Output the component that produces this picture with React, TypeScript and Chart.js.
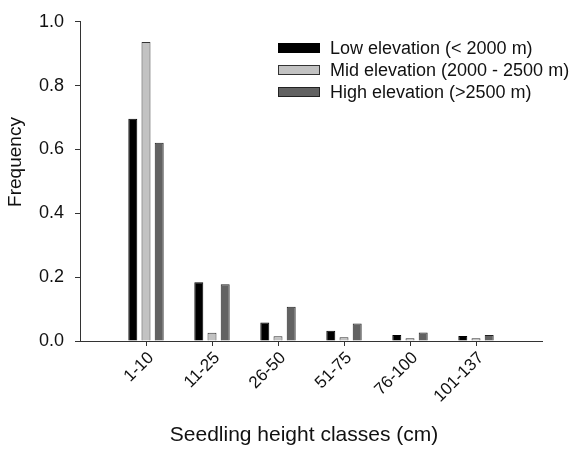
import React, { useEffect, useRef } from "react";
import { Chart, registerables } from "chart.js";

Chart.register(...registerables);

const categories = ["1-10", "11-25", "26-50", "51-75", "76-100", "101-137"];
const lowElevation = [0.696, 0.184, 0.058, 0.032, 0.019, 0.016];
const midElevation = [0.937, 0.026, 0.015, 0.012, 0.009, 0.009];
const highElevation = [0.621, 0.178, 0.107, 0.055, 0.027, 0.019];
const seriesLabels = [
  "Low elevation (< 2000 m)",
  "Mid elevation (2000 - 2500 m)",
  "High elevation (>2500 m)",
];
const yTicks = [0, 0.2, 0.4, 0.6, 0.8, 1.0];
const xTitle = "Seedling height classes (cm)";
const yTitle = "Frequency";

const FONT = "'Liberation Sans', Arial, Helvetica, sans-serif";
const AXIS = "#333333";
const TEXT = "#111111";

const toPoints = (vals: number[]) => vals.map((v, i) => ({ x: i, y: v }));

const decorPlugin = {
  id: "decor",
  afterDraw(chart: any) {
    const ctx = chart.ctx;
    ctx.save();
    // legend
    const x0 = 278;
    const y0 = 48;
    const gap = 22;
    ctx.font = `18px ${FONT}`;
    ctx.textBaseline = "middle";
    ctx.textAlign = "left";
    chart.data.datasets.forEach((ds: any, i: number) => {
      const y = y0 + i * gap;
      ctx.fillStyle = ds.backgroundColor;
      ctx.fillRect(x0, y - 5, 42, 10);
      ctx.strokeStyle = ds.borderColor;
      ctx.lineWidth = 1;
      ctx.strokeRect(x0 + 0.5, y - 4.5, 41, 9);
      ctx.fillStyle = TEXT;
      ctx.fillText(ds.label, x0 + 52, y + 1);
    });
    // x axis title
    ctx.font = `21px ${FONT}`;
    ctx.textAlign = "center";
    ctx.textBaseline = "alphabetic";
    ctx.fillStyle = TEXT;
    ctx.fillText(xTitle, 304, 441);
    // y axis title
    ctx.font = `19px ${FONT}`;
    ctx.translate(21, 162);
    ctx.rotate(-Math.PI / 2);
    ctx.fillText(yTitle, 0, 0);
    ctx.restore();
  },
};

export default function App() {
  const ref = useRef<HTMLCanvasElement | null>(null);
  useEffect(() => {
    if (!ref.current) return;
    const chart = new Chart(ref.current, {
      type: "bar",
      data: {
        datasets: [
          {
            label: seriesLabels[0],
            data: toPoints(lowElevation),
            backgroundColor: "#000000",
            borderColor: "#000000",
            borderWidth: 1,
          },
          {
            label: seriesLabels[1],
            data: toPoints(midElevation),
            backgroundColor: "#c2c2c2",
            borderColor: "#333333",
            borderWidth: 1,
          },
          {
            label: seriesLabels[2],
            data: toPoints(highElevation),
            backgroundColor: "#626262",
            borderColor: "#222222",
            borderWidth: 1,
          },
        ] as any,
      },
      options: {
        responsive: false,
        animation: false,
        categoryPercentage: 0.6,
        barPercentage: 0.68,
        layout: { padding: { left: 0, right: 36, top: 17, bottom: 0 } },
        plugins: {
          legend: { display: false },
          tooltip: { enabled: false },
        },
        scales: {
          x: {
            type: "linear",
            min: -1,
            max: 6,
            offset: false,
            afterBuildTicks: (scale: any) => {
              scale.ticks = categories.map((_, i) => ({ value: i }));
            },
            afterFit: (scale: any) => {
              scale.height = 108;
            },
            ticks: {
              autoSkip: false,
              maxRotation: 45,
              minRotation: 45,
              padding: 2,
              labelOffset: 5,
              color: TEXT,
              font: { family: FONT, size: 17 },
              callback: (v: any) => categories[v] ?? "",
            },
            grid: {
              display: true,
              offset: false,
              drawOnChartArea: false,
              drawTicks: true,
              tickLength: 5,
              color: AXIS,
            },
            border: { display: true, color: AXIS, width: 1 },
          },
          y: {
            min: 0,
            max: 1,
            afterBuildTicks: (scale: any) => {
              scale.ticks = yTicks.map((v) => ({ value: v }));
            },
            afterFit: (scale: any) => {
              scale.width = 80;
            },
            ticks: {
              padding: 11,
              color: TEXT,
              font: { family: FONT, size: 18 },
              callback: (v: any) => Number(v).toFixed(1),
            },
            grid: {
              display: true,
              drawOnChartArea: false,
              drawTicks: true,
              tickLength: 5,
              color: AXIS,
            },
            border: { display: true, color: AXIS, width: 1 },
          },
        },
      } as any,
      plugins: [decorPlugin],
    });
    return () => chart.destroy();
  }, []);
  return (
    <div style={{ position: "fixed", left: 0, top: 0, width: 578, height: 449, background: "#fff" }}>
      <canvas ref={ref} width={578} height={449} style={{ display: "block" }} />
    </div>
  );
}
